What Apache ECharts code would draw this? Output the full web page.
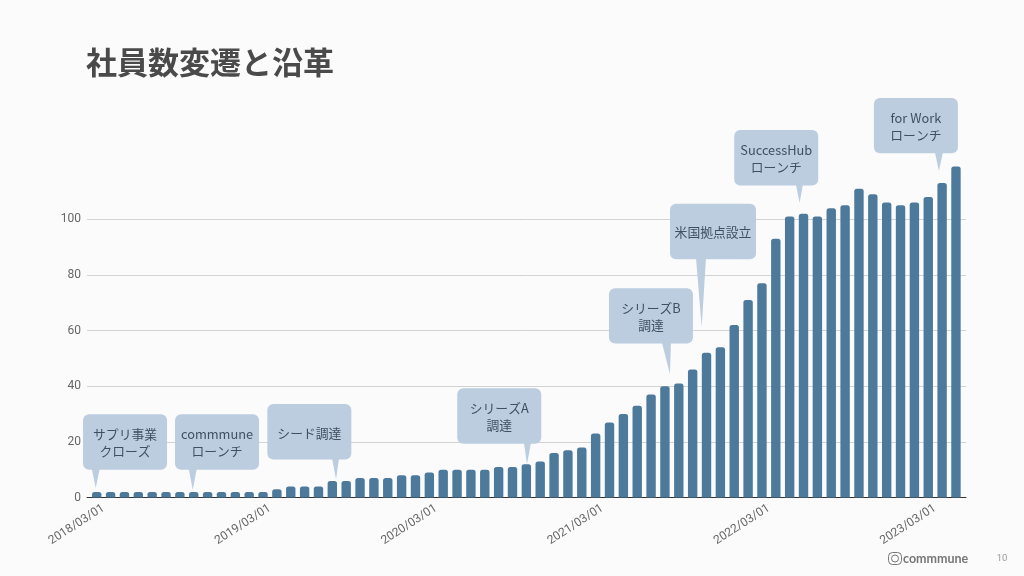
<!DOCTYPE html>
<html>
<head>
<meta charset="utf-8">
<title>社員数変遷と沿革</title>
<script src="https://cdn.jsdelivr.net/npm/echarts@6/dist/echarts.min.js"></script>
<style>
html, body { margin: 0; padding: 0; background: #fbfbfc; }
#chart { width: 1024px; height: 576px; }
</style>
</head>
<body>
<div id="chart"></div>
<script>
var months = [
	'2018/03/01', '2018/04/01', '2018/05/01', '2018/06/01', '2018/07/01', '2018/08/01', '2018/09/01', '2018/10/01', '2018/11/01', '2018/12/01', '2019/01/01', '2019/02/01',
	'2019/03/01', '2019/04/01', '2019/05/01', '2019/06/01', '2019/07/01', '2019/08/01', '2019/09/01', '2019/10/01', '2019/11/01', '2019/12/01', '2020/01/01', '2020/02/01',
	'2020/03/01', '2020/04/01', '2020/05/01', '2020/06/01', '2020/07/01', '2020/08/01', '2020/09/01', '2020/10/01', '2020/11/01', '2020/12/01', '2021/01/01', '2021/02/01',
	'2021/03/01', '2021/04/01', '2021/05/01', '2021/06/01', '2021/07/01', '2021/08/01', '2021/09/01', '2021/10/01', '2021/11/01', '2021/12/01', '2022/01/01', '2022/02/01',
	'2022/03/01', '2022/04/01', '2022/05/01', '2022/06/01', '2022/07/01', '2022/08/01', '2022/09/01', '2022/10/01', '2022/11/01', '2022/12/01', '2023/01/01', '2023/02/01',
	'2023/03/01', '2023/04/01', '2023/05/01'
];
var employees = [
	2, 2, 2, 2, 2, 2, 2, 2, 2, 2, 2, 2,
	2, 3, 4, 4, 4, 6, 6, 7, 7, 7, 8, 8,
	9, 10, 10, 10, 10, 11, 11, 12, 13, 16, 17, 18,
	23, 27, 30, 33, 37, 40, 41, 46, 52, 54, 62, 71,
	77, 93, 101, 102, 101, 104, 105, 111, 109, 106, 105, 106,
	108, 113, 119
];
var calloutLabels = [
	'サプリ事業\nクローズ', 'commmune\nローンチ', 'シード調達', 'シリーズA\n調達',
	'シリーズB\n調達', '米国拠点設立', 'SuccessHub\nローンチ', 'for Work\nローンチ'
];
var calloutMonths = [0, 7, 17, 31, 41, 44, 51, 61];

// 吹き出しの配置（棒の頂点からの相対位置）
var calloutLayout = [
	{ tip: [-1, -4], box: [-13.7, -77.7], w: 84, base: [-4, 4] },
	{ tip: [-1, -2], box: [-18.7, -77.7], w: 84, base: [-4, 4] },
	{ tip: [3.7, -1.6], box: [-65, -76.9], w: 84, base: [-4, 3] },
	{ tip: [0.6, 0], box: [-69.1, -75.9], w: 84, base: [-3, 4] },
	{ tip: [5, -12], box: [-56, -98.1], w: 84, base: [-8, 1] },
	{ tip: [-4.8, -25.7], box: [-36.5, -149], w: 86, base: [-5.7, 4.3] },
	{ tip: [-3.9, -10.7], box: [-69.3, -83.7], w: 84, base: [-3.7, 3.3] },
	{ tip: [-3.2, -12.2], box: [-68.2, -85.2], w: 84, base: [-4, 4] }
];

var FONT_JP = '"Noto Sans CJK JP", sans-serif';
var BOX_HEIGHT = 55.4;

function renderCallout(params, api) {
	var layout = calloutLayout[params.dataIndex];
	var top = api.coord([api.value(0), api.value(1)]);
	var tipX = top[0] + layout.tip[0], tipY = top[1] + layout.tip[1];
	var boxX = top[0] + layout.box[0], boxY = top[1] + layout.box[1];
	var boxBottom = boxY + BOX_HEIGHT;
	return {
		type: 'group',
		silent: true,
		children: [{
			type: 'polygon',
			shape: { points: [[tipX + layout.base[0], boxBottom - 1], [tipX + layout.base[1], boxBottom - 1], [tipX, tipY]] },
			style: { fill: '#bccde0' }
		}, {
			type: 'rect',
			shape: { x: boxX, y: boxY, width: layout.w, height: BOX_HEIGHT, r: 6 },
			style: { fill: '#bccde0' }
		}, {
			type: 'text',
			style: {
				x: boxX + layout.w / 2,
				y: boxY + BOX_HEIGHT / 2 + 1,
				text: calloutLabels[params.dataIndex],
				font: '12.8px ' + FONT_JP,
				lineHeight: 17,
				fill: '#3f5060',
				align: 'center',
				verticalAlign: 'middle'
			}
		}]
	};
}

var chart = echarts.init(document.getElementById('chart'));
chart.setOption({
	animation: false,
	backgroundColor: '#fbfbfc',
	title: {
		text: '社員数変遷と沿革',
		left: 81,
		top: 42,
		textStyle: { fontFamily: FONT_JP, fontSize: 31, fontWeight: 'bold', color: '#4a4a4a' }
	},
	grid: [
		{ left: 87, right: 58, top: 163.6, height: 334 },
		{ left: 89.8, right: 61.1, top: 163.6, height: 334 }
	],
	xAxis: [{
		// 罫線と軸線だけを描く
		type: 'value',
		gridIndex: 0,
		min: 0,
		max: 1,
		axisLine: { show: true, onZero: false, lineStyle: { color: '#333333', width: 1 } },
		axisTick: { show: false },
		axisLabel: { show: false },
		splitLine: { show: false }
	}, {
		type: 'category',
		gridIndex: 1,
		data: months,
		axisLine: { show: false },
		axisTick: { show: false },
		axisLabel: {
			interval: 11,
			rotate: 33,
			margin: 14,
			padding: [0, -8, 0, 0],
			color: '#666666',
			fontFamily: 'Roboto',
			fontSize: 12
		}
	}],
	yAxis: [{
		type: 'value',
		gridIndex: 0,
		min: 0,
		max: 120,
		interval: 20,
		axisLine: { show: false },
		axisTick: { show: false },
		axisLabel: { margin: 6, color: '#666666', fontFamily: 'Roboto', fontSize: 12, showMaxLabel: false },
		splitLine: { showMaxLine: false, lineStyle: { color: '#d2d2d2', width: 1 } }
	}, {
		type: 'value',
		gridIndex: 1,
		min: 0,
		max: 120,
		interval: 20,
		show: false
	}],
	series: [{
		type: 'bar',
		xAxisIndex: 1,
		yAxisIndex: 1,
		data: employees,
		barWidth: 9.4,
		itemStyle: { color: '#4d7a9b', borderRadius: [2.5, 2.5, 0, 0] }
	}, {
		type: 'custom',
		xAxisIndex: 1,
		yAxisIndex: 1,
		clip: false,
		z: 5,
		silent: true,
		renderItem: renderCallout,
		data: calloutMonths.map(function(i) { return [i, employees[i]]; })
	}],
	graphic: [{
		type: 'rect',
		shape: { x: 888.5, y: 552.5, width: 13, height: 12, r: 4 },
		style: { fill: 'none', stroke: '#777777', lineWidth: 1 }
	}, {
		type: 'circle',
		shape: { cx: 895, cy: 558.5, r: 3.5 },
		style: { fill: 'none', stroke: '#777777', lineWidth: 1 }
	}, {
		type: 'text',
		x: 903,
		y: 558.5,
		style: { text: 'commmune', font: 'bold 12.5px Lato', fill: '#777777', verticalAlign: 'middle' }
	}, {
		type: 'text',
		x: 1002,
		y: 558.5,
		style: { text: '10', font: '9.5px Roboto', fill: '#999999', align: 'center', verticalAlign: 'middle' }
	}]
});
</script>
</body>
</html>
